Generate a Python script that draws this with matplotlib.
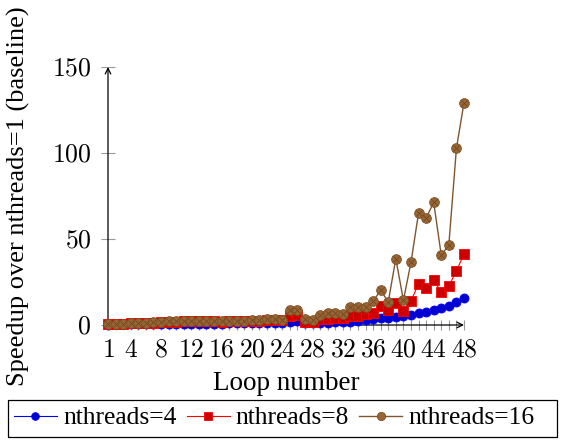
import numpy as np
import matplotlib
matplotlib.use("Agg")
import matplotlib.pyplot as plt
from matplotlib.patches import Rectangle

plt.rcParams['font.family'] = ['Liberation Serif', 'DejaVu Serif']
plt.rcParams['mathtext.fontset'] = 'cm'

# ---- data ----
loops = list(range(1, 49))

speedup_4 = [0.2, 0.3, 0.3, 0.4, 0.5, 0.5, 0.6, 0.6, 0.7, 0.7, 0.7, 0.8,
             0.8, 0.8, 0.8, 0.8, 0.9, 0.9, 0.9, 1.0, 1.0, 1.0, 1.0, 1.0,
             1.5, 2.5, 1.0, 1.2, 1.3, 1.4, 1.5, 1.7, 2.0, 2.4, 2.8, 3.2,
             3.8, 4.2, 4.6, 5.0, 6.0, 7.0, 7.7, 8.9, 10.0, 11.2, 13.4, 15.7]

speedup_8 = [0.4, 0.5, 0.5, 1.0, 1.1, 1.2, 1.3, 1.7, 1.9, 2.0, 2.2, 2.2,
             2.1, 2.2, 2.1, 2.0, 2.2, 2.3, 2.1, 2.5, 2.6, 2.8, 2.9, 2.7,
             5.0, 6.0, 2.0, 2.0, 3.5, 3.5, 4.0, 4.0, 5.0, 5.4, 6.4, 7.0,
             10.8, 8.9, 12.8, 8.1, 14.1, 23.8, 21.3, 26.3, 19.0, 22.7, 31.4, 41.3]

speedup_16 = [0.4, 0.5, 0.6, 1.2, 1.3, 1.3, 1.5, 2.0, 2.2, 2.3, 2.5, 2.5,
              2.4, 2.5, 2.4, 2.3, 2.5, 2.6, 2.4, 2.8, 3.0, 3.2, 3.3, 3.1,
              8.9, 8.9, 3.5, 2.7, 5.6, 7.0, 7.0, 6.4, 10.5, 10.3, 10.5, 13.8,
              20.2, 13.4, 38.6, 14.3, 36.4, 65.1, 62.2, 71.3, 40.5, 46.7, 102.7, 129.3]

xtick_labels = [1, 4, 8, 12, 16, 20, 24, 28, 32, 36, 40, 44, 48]
ytick_labels = [0, 50, 100, 150]

W, H = 563, 442
fig = plt.figure(figsize=(W / 100, H / 100), dpi=100)
ax = fig.add_axes([108 / W, 117 / H, 356 / W, 258 / H])

l4, = ax.plot(loops, speedup_4, color='#0000ff', lw=0.8, marker='o', ms=6.5,
              mfc='#0000cc', mec='#0000ff', mew=0.6, clip_on=False, zorder=3,
              label='nthreads=4')
l8, = ax.plot(loops, speedup_8, color='#ff0000', lw=0.8, marker='s', ms=6.5,
              mfc='#cc0000', mec='#ff0000', mew=0.6, clip_on=False, zorder=4,
              label='nthreads=8')
l16, = ax.plot(loops, speedup_16, color='#7f5530', lw=1.0, marker='o', ms=7,
               mfc='#996633', mec='#7a5028', mew=0.6, clip_on=False, zorder=5,
               label='nthreads=16')
# cross inside the brown circles (otimes marker)
ax.plot(loops, speedup_16, ls='none', marker='x', ms=4.2, mec='#6b4423',
        mew=0.5, clip_on=False, zorder=6)

ax.set_xlim(1, 48)
ax.set_ylim(0, 150)
ax.set_xticks(xtick_labels)
ax.set_xticklabels(['$%d$' % v for v in xtick_labels])
ax.set_xticks(loops, minor=True)
ax.set_yticks(ytick_labels)
ax.set_yticklabels(['$%d$' % v for v in ytick_labels])
ax.tick_params(axis='both', which='both', direction='inout', color='#999999',
               labelsize=18.5)
ax.tick_params(axis='x', which='both', length=7, width=0.8, pad=7)
ax.tick_params(axis='y', which='major', length=10, width=0.8, pad=7)

for s in ax.spines.values():
    s.set_visible(False)

# axis lines with arrow heads
ax.annotate('', xy=(1.0, 0), xytext=(0, 0), xycoords='axes fraction',
            arrowprops=dict(arrowstyle='->', color='black', lw=0.9,
                            shrinkA=0, shrinkB=0), zorder=2)
ax.annotate('', xy=(0, 1.0), xytext=(0, 0), xycoords='axes fraction',
            arrowprops=dict(arrowstyle='->', color='black', lw=0.9,
                            shrinkA=0, shrinkB=0), zorder=2)

ax.set_xlabel('Loop number', fontsize=19.5)
ax.xaxis.set_label_coords(0.5, (H - 384 - 117) / 258)
ax.xaxis.label.set_va('center')
ax.set_ylabel('Speedup over nthreads=1 (baseline)', fontsize=19)
ax.yaxis.set_label_coords((18 - 108) / 356, 0.5)
ax.yaxis.label.set_va('center')

leg = fig.legend(handles=[l4, l8, l16], loc='center left',
                 bbox_to_anchor=(14 / W, (H - 418) / H), ncol=3, fontsize=18.4,
                 frameon=False, handlelength=1.68, handletextpad=0.24,
                 columnspacing=0.4, borderpad=0.0, borderaxespad=0.0,
                 markerscale=0.85)

# legend frame drawn separately (spans the full width like the original)
fig.add_artist(Rectangle((8 / W, (H - 437) / H), 549 / W, 37 / H,
                         transform=fig.transFigure, fill=False,
                         edgecolor='black', lw=0.9))

fig.savefig('out.png', dpi=100)
